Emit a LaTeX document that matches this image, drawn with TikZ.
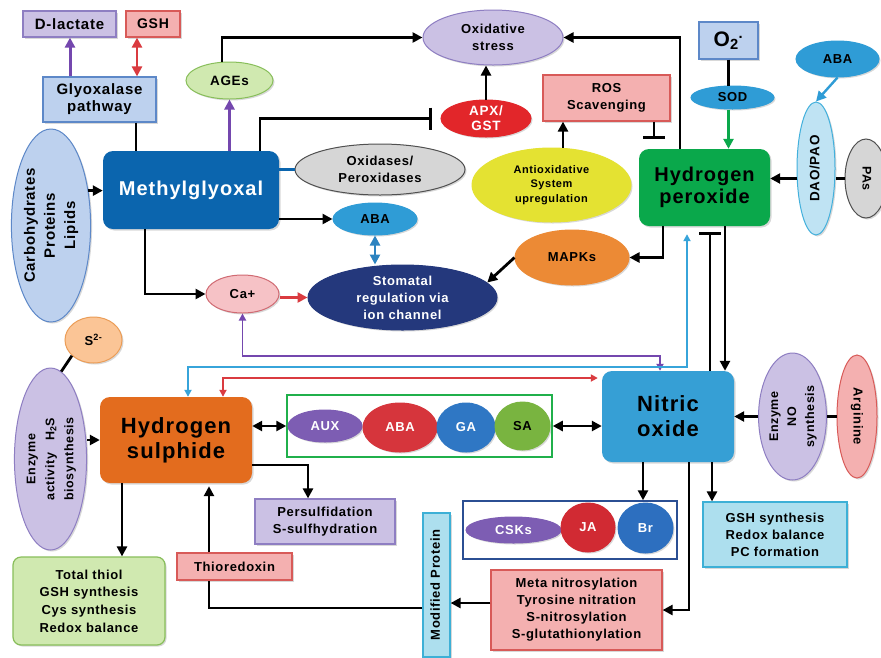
\documentclass[tikz,border=0pt]{standalone}
\usepackage{fontspec}
\usepackage{graphicx}
\setmainfont{Liberation Sans}[LetterSpace=5]
\usetikzlibrary{shapes.geometric,arrows.meta,shadows}

\definecolor{lavFill}{HTML}{CBC1E4}
\definecolor{lavLine}{HTML}{8E7EC2}
\definecolor{pinkFill}{HTML}{F4B0B0}
\definecolor{pinkLine}{HTML}{D85A58}
\definecolor{skyFill}{HTML}{BDD1EE}
\definecolor{skyLine}{HTML}{5D88C8}
\definecolor{mintFill}{HTML}{D0E9B0}
\definecolor{mintLine}{HTML}{88BE5A}
\definecolor{mgBlue}{HTML}{0B65AE}
\definecolor{apxRed}{HTML}{E2262A}
\definecolor{greyFill}{HTML}{D6D6D6}
\definecolor{greyLine}{HTML}{505050}
\definecolor{abaBlue}{HTML}{2F9CD6}
\definecolor{navy}{HTML}{24387C}
\definecolor{caFill}{HTML}{F6C2C6}
\definecolor{caLine}{HTML}{D06A72}
\definecolor{mapkOrange}{HTML}{EC8A35}
\definecolor{antiYellow}{HTML}{E4E232}
\definecolor{hpGreen}{HTML}{0AA84B}
\definecolor{daoFill}{HTML}{BFE3F3}
\definecolor{daoLine}{HTML}{42B0DC}
\definecolor{peachFill}{HTML}{FBC596}
\definecolor{peachLine}{HTML}{EB9D57}
\definecolor{hsOrange}{HTML}{E36C1E}
\definecolor{noBlue}{HTML}{369FD5}
\definecolor{auxPurple}{HTML}{7D5DB3}
\definecolor{abaRed}{HTML}{D6353C}
\definecolor{gaBlue}{HTML}{2F77C4}
\definecolor{saGreen}{HTML}{79B440}
\definecolor{frameGreen}{HTML}{20B04B}
\definecolor{jaRed}{HTML}{D12A33}
\definecolor{brBlue}{HTML}{2D6FBF}
\definecolor{frameBlue}{HTML}{2B4F93}
\definecolor{cyanFill}{HTML}{ADDFEE}
\definecolor{cyanLine}{HTML}{3DB0D6}
\definecolor{purpArr}{HTML}{7447AE}
\definecolor{redArr}{HTML}{DA3B40}
\definecolor{blueArr}{HTML}{37A4DA}

\newcommand\vlbl[2][90]{\rotatebox{#1}{\begin{tabular}{@{}c@{}}#2\end{tabular}}}

\begin{document}
\begin{tikzpicture}[x=1pt,y=-1pt,
	every node/.style={font=\bfseries\fontsize{13}{17}\selectfont,align=center,inner sep=0pt},
	dims/.style 2 args={minimum width=#1pt,minimum height=#2pt},
	flatbox/.style 2 args={shape=rectangle,draw=#1,fill=#2,line width=1.2pt,
		drop shadow={opacity=0.3,shadow xshift=1.5pt,shadow yshift=-1.5pt}},
	bigbox/.style={shape=rectangle,rounded corners=10pt,fill=#1,
		drop shadow={opacity=0.3,shadow xshift=1.5pt,shadow yshift=-1.5pt}},
	oval/.style 2 args={shape=ellipse,draw=#1,fill=#2,line width=1pt,
		drop shadow={opacity=0.3,shadow xshift=1.5pt,shadow yshift=-1.5pt}},
	lineLink/.style={line width=2.8pt},
	arrowLink/.style={lineLink,-{Triangle[length=10pt,width=10pt]}},
	twoWay/.style={lineLink,{Triangle[length=10pt,width=10pt]}-{Triangle[length=10pt,width=10pt]}},
	inhibitLink/.style={lineLink,-{Bar[width=22pt]}},
	longLink/.style={line width=1.9pt,color=#1,{Triangle[length=7pt,width=7pt]}-{Triangle[length=7pt,width=7pt]}}]
	\useasboundingbox (0,0) rectangle (881,657);
	\fill[white] (0,0) rectangle (881,657);

	% upper part
	\node (dlac) at (69.5,24) [flatbox={lavLine}{lavFill},dims={93}{26},font=\bfseries\fontsize{15}{17}\selectfont] {D-lactate};
	\node (gsh) at (153,24) [flatbox={pinkLine}{pinkFill},dims={54}{26},font=\bfseries\fontsize{14}{17}\selectfont] {GSH};
	\node (glyox) at (99.5,99.5) [flatbox={skyLine}{skyFill},dims={113}{45},font=\bfseries\fontsize{15}{17}\selectfont] {Glyoxalase\\pathway};
	\node (ages) at (229.5,80.5) [oval={mintLine}{mintFill},dims={87}{37},font=\bfseries\fontsize{13.5}{17}\selectfont] {AGEs};
	\node (methyl) at (191,190) [bigbox=mgBlue,dims={176}{78},text=white,font=\bfseries\fontsize{20}{24}\selectfont] {Methylglyoxal};
	\node (carb) at (51,225.5) [oval={skyLine}{skyFill},dims={70}{193},inner sep=-2pt,font=\bfseries\fontsize{15}{20}\selectfont] {\vlbl{Carbohydrates\\Proteins\\Lipids}};
	\node (oxstress) at (493,37.5) [oval={lavLine}{lavFill},dims={140}{55}] {Oxidative\\stress};
	\node (apx) at (486,118.5) [oval={apxRed}{apxRed},dims={90}{37},inner sep=-2pt,text=white,font=\bfseries\fontsize{13.5}{15}\selectfont] {APX/\\GST};
	\node (oxid) at (380,169.5) [oval={greyLine}{greyFill},dims={170}{51}] {Oxidases/\\Peroxidases};
	\node (abam) at (375,219) [oval={abaBlue}{abaBlue},dims={84}{32}] {ABA};
	\node (stomatal) at (402.5,297.5) [oval={navy}{navy},dims={189}{65},inner sep=-1pt,text=white] {Stomatal\\regulation via\\ion channel};
	\node (ca) at (242.5,294) [oval={caLine}{caFill},dims={73}{38}] {Ca+};
	\node (mapk) at (572,257.5) [oval={mapkOrange}{mapkOrange},dims={114}{55}] {MAPKs};
	\node (ros) at (606.5,98) [flatbox={pinkLine}{pinkFill},dims={127}{46}] {ROS\\Scavenging};
	\node (antiox) at (551.5,185) [oval={antiYellow}{antiYellow},dims={159}{74},font=\bfseries\fontsize{11}{14.5}\selectfont] {Antioxidative\\System\\upregulation};
	\node (hperox) at (704.5,187.5) [bigbox=hpGreen,dims={131}{77},font=\bfseries\fontsize{20}{22}\selectfont] {Hydrogen\\peroxide};
	\node (otwo) at (728.5,40.5) [flatbox={skyLine}{skyFill},dims={59}{37},font=\bfseries\fontsize{21}{24}\selectfont] {O\textsubscript{2}\textsuperscript{.}};
	\node (sod) at (732.5,97.5) [oval={abaBlue}{abaBlue},dims={83}{23}] {SOD};
	\node (abar) at (837.5,59) [oval={abaBlue}{abaBlue},dims={83}{36}] {ABA};
	\node (dao) at (816,168.5) [oval={daoLine}{daoFill},dims={38}{133},font=\bfseries\fontsize{13.5}{17}\selectfont] {\vlbl{DAO/PAO}};
	\node (pas) at (866,178.5) [oval={greyLine}{greyFill},dims={42}{79},font=\bfseries\fontsize{12.5}{17}\selectfont] {\vlbl[-90]{PAs}};

	% middle part
	\node (stwo) at (93.5,340) [oval={peachLine}{peachFill},dims={57}{46}] {S\textsuperscript{2-}};
	\node (enzh) at (50.5,459) [oval={lavLine}{lavFill},dims={65}{182},inner sep=-3pt,font=\bfseries\fontsize{12.5}{19}\selectfont] {\vlbl{Enzyme\\activity\quad H\textsubscript{2}S\\biosynthesis}};
	\node (hsul) at (176,440) [bigbox=hsOrange,dims={152}{86},font=\bfseries\fontsize{22}{25}\selectfont] {Hydrogen\\sulphide};
	\node (greenbox) at (419.5,426) [shape=rectangle,draw=frameGreen,line width=1.5pt,dims={265}{62}] {};
	\node (aux) at (325,426) [oval={auxPurple}{auxPurple},dims={74}{32},text=white] {AUX};
	\node (abag) at (400,427.5) [oval={abaRed}{abaRed},dims={74}{49},text=white] {ABA};
	\node (ga) at (466,427.5) [oval={gaBlue}{gaBlue},dims={58}{49},text=white] {GA};
	\node (sa) at (522.5,426) [oval={saGreen}{saGreen},dims={55}{48}] {SA};
	\node (nitric) at (668,416.5) [bigbox=noBlue,dims={132}{91},font=\bfseries\fontsize{22}{25}\selectfont] {Nitric\\oxide};
	\node (enzno) at (792.5,416.5) [oval={lavLine}{lavFill},dims={61}{127},inner sep=-3pt,font=\bfseries\fontsize{12.5}{18}\selectfont] {\vlbl{Enzyme\\NO\\synthesis}};
	\node (arg) at (857,416.5) [oval={pinkLine}{pinkFill},dims={40}{123}] {\vlbl[-90]{Arginine}};

	% lower part
	\node (thiol) at (89,601) [flatbox={mintLine}{mintFill},rounded corners=8pt,dims={152}{88},font=\bfseries\fontsize{13}{17.7}\selectfont] {Total thiol\\GSH synthesis\\Cys synthesis\\Redox balance};
	\node (persulf) at (325,521.5) [flatbox={lavLine}{lavFill},dims={140}{45}] {Persulfidation\\S-sulfhydration};
	\node (thio) at (234.5,566.5) [flatbox={pinkLine}{pinkFill},dims={115}{27}] {Thioredoxin};
	\node (modprot) at (436.5,585) [flatbox={cyanLine}{cyanFill},dims={27}{144}] {\vlbl{Modified Protein}};
	\node (meta) at (576.5,610) [flatbox={pinkLine}{pinkFill},dims={171}{80}] {Meta nitrosylation\\Tyrosine nitration\\S-nitrosylation\\S-glutathionylation};
	\node (cskbox) at (570,530) [shape=rectangle,draw=frameBlue,line width=1.5pt,dims={214}{58}] {};
	\node (csks) at (513.5,530) [oval={auxPurple}{auxPurple},dims={95}{26},text=white] {CSKs};
	\node (ja) at (588,527.5) [oval={jaRed}{jaRed},dims={54}{49},text=white] {JA};
	\node (br) at (645.5,528) [oval={brBlue}{brBlue},dims={55}{50},text=white] {Br};
	\node (gshs) at (775,534.5) [flatbox={cyanLine}{cyanFill},dims={144}{65}] {GSH synthesis\\Redox balance\\PC formation};

	% links, upper part
	\draw[arrowLink,purpArr,line width=3pt] ([xshift=-29.5pt]glyox.north) -- ([xshift=-29.5pt]glyox.north |- dlac.south);
	\draw[twoWay,redArr] ([xshift=-16pt]gsh.south) -- ([xshift=-16pt]gsh.south |- glyox.north);
	\draw[lineLink] ([xshift=36.5pt]glyox.south) -- ([xshift=36.5pt]glyox.south |- methyl.north);
	\draw[arrowLink,purpArr,line width=3pt] (methyl.north -| ages.south) -- (ages.south);
	\draw[arrowLink] ([xshift=-7.5pt]ages.north) |- (oxstress.west);
	\draw[inhibitLink,shorten >=9pt] ([xshift=69pt]methyl.north) |- (apx.west);
	\draw[arrowLink] (apx.north) -- (apx.north |- oxstress.south);
	\draw[lineLink,mgBlue] (methyl.east |- oxid.west) -- (oxid.west);
	\draw[arrowLink] (methyl.east |- abam.west) -- (abam.west);
	\draw[arrowLink] (carb.43) -- (carb.43 -| methyl.west);
	\draw[arrowLink] ([xshift=-46pt]methyl.south) |- (ca.west);
	\draw[arrowLink,redArr] (ca.east |- stomatal.west) -- (stomatal.west);
	\draw[twoWay,abaBlue!75!navy] (abam.south) -- (abam.south |- stomatal.north);
	\draw[arrowLink] (mapk.west) -- (stomatal.10);
	\draw[arrowLink] ([xshift=-41.5pt]hperox.south) |- (mapk.east);
	\draw[arrowLink] ([xshift=-24.5pt]hperox.north) |- (oxstress.east);
	\draw[arrowLink] ([xshift=11.5pt]antiox.north) -- ([xshift=11.5pt]antiox.north |- ros.south);
	\draw[inhibitLink,shorten >=10pt] ([xshift=47.5pt]ros.south) -- ([xshift=47.5pt]ros.south |- hperox.north);
	\draw[lineLink] (otwo.south) -- (otwo.south |- sod.north);
	\draw[arrowLink,hpGreen] (otwo.south |- sod.south) -- (otwo.south |- hperox.north);
	\draw[arrowLink,abaBlue,line width=2.4pt] (abar.south) -- (dao.north);
	\draw[lineLink] (pas.west) -- (pas.west -| dao.east);
	\draw[arrowLink] (dao.west |- pas.west) -- (pas.west -| hperox.east);

	% links, middle part
	\draw[lineLink] (stwo.216) -- (enzh.83);
	\draw[arrowLink] (hsul.west -| enzh.east) -- (hsul.west);
	\draw[twoWay] (hsul.east |- greenbox.west) -- (greenbox.west);
	\draw[twoWay] (greenbox.east) -- (greenbox.east -| nitric.west);
	\draw[lineLink] (arg.west) -- (enzno.east);
	\draw[arrowLink] (enzno.west) -- (enzno.west -| nitric.east);
	\draw[inhibitLink,shorten >=6pt] ([xshift=42pt]nitric.north) -- ([xshift=42pt]nitric.north |- hperox.south);
	\draw[arrowLink] ([xshift=20.5pt]hperox.south) -- ([xshift=20.5pt]hperox.south |- nitric.north);
	\coordinate (purpLvl) at (0,356);
	\coordinate (blueLvl) at (0,367);
	\coordinate (redLvl) at (0,378);
	\draw[longLink=purpArr] (ca.south) -- (ca.south |- purpLvl) -| ([xshift=-8pt]nitric.north);
	\draw[longLink=blueArr,shorten >=8pt] ([xshift=12pt]hsul.north) -- ([xshift=12pt]hsul.north |- blueLvl) -| ([xshift=-17.5pt]hperox.south);
	\draw[longLink=redArr,shorten >=4pt] ([xshift=47pt]hsul.north) |- (nitric.west |- redLvl);

	% links, lower part
	\draw[arrowLink] ([xshift=-54pt]hsul.south) -- ([xshift=-54pt]hsul.south |- thiol.north);
	\draw[arrowLink] ([yshift=-25pt]hsul.east) -| ([xshift=-17pt]persulf.north);
	\draw[arrowLink,shorten >=3pt] ([xshift=-25.5pt]thio.north) -- ([xshift=-25.5pt]thio.north |- hsul.south);
	\draw[lineLink] ([yshift=-23pt]modprot.west) -| ([xshift=-25.5pt]thio.south);
	\draw[arrowLink] ([yshift=7pt]meta.west) -- ([yshift=7pt]meta.west -| modprot.east);
	\draw[arrowLink] ([xshift=-25pt]nitric.south) -- ([xshift=-25pt]nitric.south |- cskbox.north);
	\draw[arrowLink] ([xshift=21pt]nitric.south) |- (meta.east);
	\draw[arrowLink] ([xshift=44pt]nitric.south) -- ([xshift=44pt]nitric.south |- gshs.north);
\end{tikzpicture}
\end{document}
